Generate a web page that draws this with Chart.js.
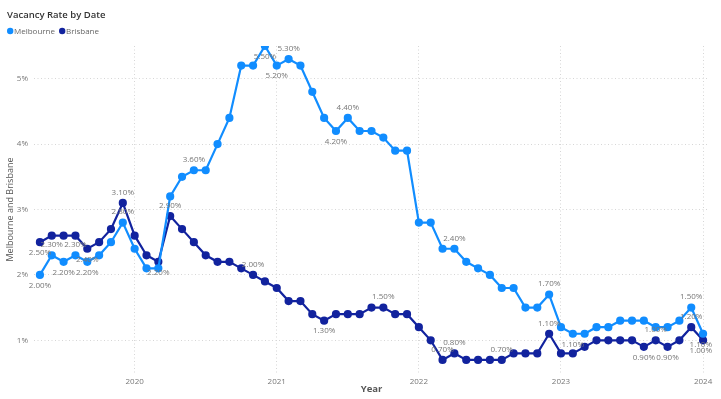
<!DOCTYPE html>
<html>
<head>
<meta charset="utf-8">
<script src="https://cdn.jsdelivr.net/npm/chart.js@4/dist/chart.umd.min.js"></script>
<style>
  html, body { margin: 0; padding: 0; background: #fff; }
  #wrap { width: 721px; height: 399px; position: relative; }
</style>
</head>
<body>
<div id="wrap"><canvas id="chart"></canvas></div>
<script>
// monthly observations, May 2019 .. Jan 2024
const months = [
    '2019-05', '2019-06', '2019-07', '2019-08', '2019-09', '2019-10', '2019-11', '2019-12',
    '2020-01', '2020-02', '2020-03', '2020-04', '2020-05', '2020-06', '2020-07', '2020-08', '2020-09', '2020-10', '2020-11', '2020-12',
    '2021-01', '2021-02', '2021-03', '2021-04', '2021-05', '2021-06', '2021-07', '2021-08', '2021-09', '2021-10', '2021-11', '2021-12',
    '2022-01', '2022-02', '2022-03', '2022-04', '2022-05', '2022-06', '2022-07', '2022-08', '2022-09', '2022-10', '2022-11', '2022-12',
    '2023-01', '2023-02', '2023-03', '2023-04', '2023-05', '2023-06', '2023-07', '2023-08', '2023-09', '2023-10', '2023-11', '2023-12',
    '2024-01'
];

const melbourne = [
    2.0, 2.3, 2.2, 2.3, 2.2, 2.3, 2.5, 2.8,
    2.4, 2.1, 2.1, 3.2, 3.5, 3.6, 3.6, 4.0, 4.4, 5.2, 5.2, 5.5,
    5.2, 5.3, 5.2, 4.8, 4.4, 4.2, 4.4, 4.2, 4.2, 4.1, 3.9, 3.9,
    2.8, 2.8, 2.4, 2.4, 2.2, 2.1, 2.0, 1.8, 1.8, 1.5, 1.5, 1.7,
    1.2, 1.1, 1.1, 1.2, 1.2, 1.3, 1.3, 1.3, 1.2, 1.2, 1.3, 1.5,
    1.1
];

const brisbane = [
    2.5, 2.6, 2.6, 2.6, 2.4, 2.5, 2.7, 3.1,
    2.6, 2.3, 2.2, 2.9, 2.7, 2.5, 2.3, 2.2, 2.2, 2.1, 2.0, 1.9,
    1.8, 1.6, 1.6, 1.4, 1.3, 1.4, 1.4, 1.4, 1.5, 1.5, 1.4, 1.4,
    1.2, 1.0, 0.7, 0.8, 0.7, 0.7, 0.7, 0.7, 0.8, 0.8, 0.8, 1.1,
    0.8, 0.8, 0.9, 1.0, 1.0, 1.0, 1.0, 0.9, 1.0, 0.9, 1.0, 1.2,
    1.0
];

// which points carry a data label, and on which side of the point
const melbLabelIdx = [0, 1, 2, 3, 4, 7, 13, 19, 20, 21, 25, 26, 35, 43, 45, 55, 56];
const melbLabelPos = ['b', 'a', 'b', 'a', 'b', 'a', 'a', 'b', 'b', 'a', 'b', 'a', 'a', 'a', 'b', 'a', 'b'];
const brisLabelIdx = [0, 4, 7, 10, 11, 18, 24, 29, 34, 35, 39, 43, 51, 52, 53, 55, 56];
const brisLabelPos = ['b', 'b', 'a', 'b', 'a', 'a', 'b', 'a', 'a', 'a', 'a', 'a', 'b', 'a', 'b', 'a', 'b'];

const yearTicks = [2020, 2021, 2022, 2023, 2024];
const pctTicks = [1, 2, 3, 4, 5];

const FONT = "'Segoe UI', 'Open Sans', 'Noto Sans', sans-serif";

function toX(m) {
    const [y, mo] = m.split('-').map(Number);
    return y + (mo - 1) / 12;
}
const points = arr => arr.map((v, i) => ({ x: toX(months[i]), y: v }));

const labelSets = [
    { idx: melbLabelIdx, pos: melbLabelPos },
    { idx: brisLabelIdx, pos: brisLabelPos },
];

const dataLabels = {
    id: 'dataLabels',
    afterDatasetsDraw(chart) {
        const ctx = chart.ctx;
        ctx.save();
        ctx.font = `8px ${FONT}`;
        ctx.fillStyle = '#777';
        ctx.textAlign = 'center';
        ctx.textBaseline = 'middle';
        labelSets.forEach((set, di) => {
            const meta = chart.getDatasetMeta(di);
            const vals = chart.data.datasets[di].data;
            set.idx.forEach((i, k) => {
                const el = meta.data[i];
                let x = el.x;
                const w = ctx.measureText('0.00%').width;
                if (x + w / 2 > chart.chartArea.right + 3) x = chart.chartArea.right + 3 - w / 2;
                const y = set.pos[k] === 'a' ? el.y - 10.5 : el.y + 10.5;
                ctx.fillText(vals[i].y.toFixed(2) + '%', x, y);
            });
        });
        ctx.restore();
    }
};

const header = {
    id: 'header',
    afterDraw(chart) {
        const ctx = chart.ctx;
        ctx.save();
        ctx.font = `600 9.5px ${FONT}`;
        ctx.fillStyle = '#333';
        ctx.textBaseline = 'alphabetic';
        ctx.textAlign = 'left';
        ctx.fillText('Vacancy Rate by Date', 7, 17.5);
        ctx.font = `8px ${FONT}`;
        let x = 7;
        chart.data.datasets.forEach(ds => {
            ctx.fillStyle = ds.borderColor;
            ctx.beginPath();
            ctx.arc(x + 3.2, 31, 3.2, 0, Math.PI * 2);
            ctx.fill();
            ctx.fillStyle = '#666';
            ctx.textBaseline = 'middle';
            ctx.fillText(ds.label, x + 7, 31.5);
            x += 7 + ctx.measureText(ds.label).width + 4;
        });
        ctx.restore();
    }
};

new Chart(document.getElementById('chart'), {
    type: 'line',
    data: {
        datasets: [
            {
                label: 'Melbourne',
                data: points(melbourne),
                borderColor: '#118DFF',
                backgroundColor: '#118DFF',
                borderWidth: 2.2,
                pointRadius: 3,
                pointHoverRadius: 3,
                tension: 0,
            },
            {
                label: 'Brisbane',
                data: points(brisbane),
                borderColor: '#12239E',
                backgroundColor: '#12239E',
                borderWidth: 2.2,
                pointRadius: 3,
                pointHoverRadius: 3,
                tension: 0,
            },
        ],
    },
    options: {
        responsive: true,
        maintainAspectRatio: false,
        animation: false,
        layout: { padding: { top: 46, right: 12, left: 0, bottom: 0 } },
        plugins: {
            legend: { display: false },
            title: { display: false },
            tooltip: { enabled: false },
        },
        scales: {
            x: {
                type: 'linear',
                min: 2019 + 4 / 12 - 1 / 24,
                max: 2024 + 1 / 24,
                afterBuildTicks: s => { s.ticks = yearTicks.map(v => ({ value: v })); },
                afterFit: s => { s.height = 26; },
                ticks: {
                    callback: v => String(v),
                    color: '#777',
                    font: { family: FONT, size: 8 },
                    padding: 4,
                    maxRotation: 0,
                },
                grid: { color: '#d6d6d6', lineWidth: 1, drawTicks: false },
                border: { display: false, dash: [1, 2.5] },
                title: {
                    display: true,
                    text: 'Year',
                    color: '#555',
                    font: { family: FONT, size: 9.5, weight: 'bold' },
                    padding: { top: 0, bottom: 4 },
                },
            },
            y: {
                min: 0.5,
                max: 5.5,
                afterBuildTicks: s => { s.ticks = pctTicks.map(v => ({ value: v })); },
                afterFit: s => { s.width = 34; },
                ticks: {
                    callback: v => v + '%',
                    color: '#777',
                    font: { family: FONT, size: 8 },
                    padding: 6,
                },
                grid: { color: '#d6d6d6', lineWidth: 1, drawTicks: false },
                border: { display: false, dash: [1, 2.5] },
                title: {
                    display: true,
                    text: 'Melbourne and Brisbane',
                    color: '#555',
                    font: { family: FONT, size: 9 },
                    padding: { top: 5, bottom: 0 },
                },
            },
        },
    },
    plugins: [dataLabels, header],
});
</script>
</body>
</html>
